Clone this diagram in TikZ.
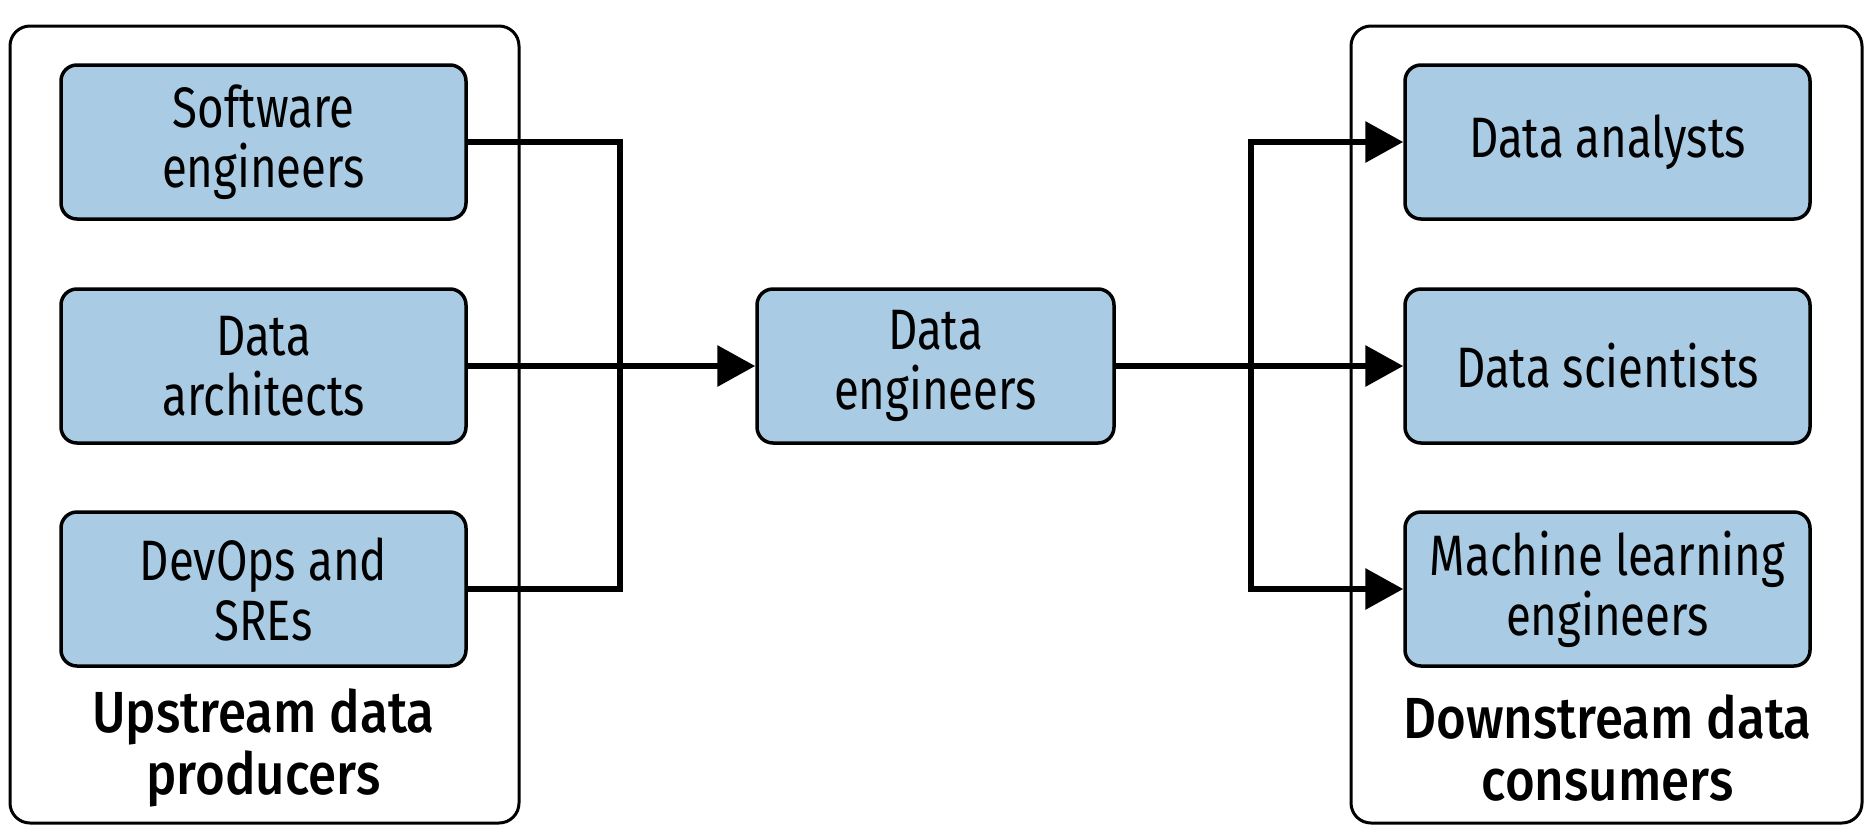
\documentclass[tikz,border=0pt]{standalone}
\usepackage{fontspec}
\setmainfont{Fira Sans}[FakeStretch=0.80]
\newfontfamily\labfont{Fira Sans Medium}[FakeStretch=0.88]
\usetikzlibrary{arrows.meta}
\definecolor{boxblue}{RGB}{169,204,228}
\tikzset{
  role/.style={draw=black, line width=3.5pt, fill=boxblue, rounded corners=16pt,
    minimum width=405pt, minimum height=154pt, inner sep=0pt, align=center,
    font=\fontsize{57}{60}\selectfont},
  group/.style={draw=black, line width=3pt, rounded corners=20pt},
  grouplabel/.style={align=center, inner sep=0pt, font=\labfont\fontsize{58}{62}\selectfont},
  conn/.style={line width=6.5pt, line join=miter},
  arr/.style={conn, -{Triangle[length=38pt, width=40pt]}}
}
\begin{document}
\begin{tikzpicture}[x=1pt, y=-1pt]
\useasboundingbox[fill=white] (0,0) rectangle (1871,836);
% group frames
\draw[group] (10,26) rectangle (519,823);
\draw[group] (1351,26) rectangle (1862,823);
% upstream roles
\node[role] (se) at (263.5,142) {Software\\engineers};
\node[role] (da) at (263.5,366) {Data\\architects};
\node[role] (dv) at (263.5,589) {DevOps and\\SREs};
\node[grouplabel] (up) at (263.5,748) {Upstream data\\producers};
% data engineers
\node[role, minimum width=357pt] (de) at (935.5,366) {Data\\engineers};
% downstream roles
\node[role] (an) at (1607.5,142) {Data analysts};
\node[role] (sc) at (1607.5,366) {Data scientists};
\node[role] (ml) at (1607.5,589) {Machine learning\\engineers};
\node[grouplabel] (down) at (1607.5,748) {Downstream data\\consumers};
% junction coordinates
\coordinate (jl) at (620,366);
\coordinate (jr) at (1251,366);
% left connectors
\draw[conn] (se.east) -- (se.east -| jl) -- (dv.east -| jl) -- (dv.east);
\draw[arr] (da.east) -- (de.west);
% right connectors
\draw[arr] (de.east) -- (sc.west);
\draw[arr] (ml.west -| jr) -- (an.west -| jr) -- (an.west);
\draw[arr] (jr) -- (ml.west -| jr) -- (ml.west);
\end{tikzpicture}
\end{document}
